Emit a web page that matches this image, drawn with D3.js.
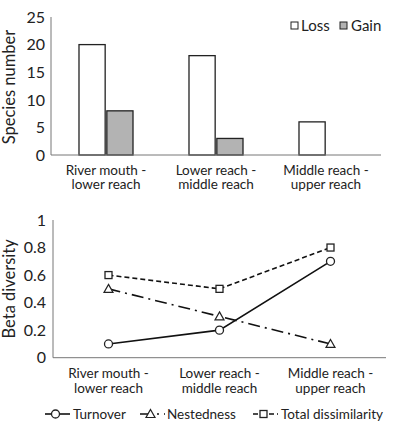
<!DOCTYPE html>
<html><head><meta charset="utf-8">
<script src="https://cdn.jsdelivr.net/npm/d3@7"></script>
<style>
body{margin:0;background:#fff;}
text{font-family:"Lato","Open Sans",sans-serif;fill:#222;}
</style></head>
<body><svg id="c" width="394" height="433"></svg>
<script>
const categories = ["River mouth - lower reach","Lower reach - middle reach","Middle reach - upper reach"];
const catLines = [["River mouth -","lower reach"],["Lower reach -","middle reach"],["Middle reach -","upper reach"]];
const barSeries = ["Loss","Gain"];
const lossValues = [20,18,6];
const gainValues = [8,3,0];
const barTicks = [0,5,10,15,20,25];
const lineSeries = ["Turnover","Nestedness","Total dissimilarity"];
const turnover = [0.1,0.2,0.7];
const nestedness = [0.5,0.3,0.1];
const totalDiss = [0.6,0.5,0.8];
const lineTicks = [0,0.2,0.4,0.6,0.8,1];
const lineTickLabels = ["0","0.2","0.4","0.6","0.8","1"];

const svg = d3.select("#c");
const axisCol = "#777";

// ---------- top bar chart ----------
const t = {left:51,right:381,top:17,bottom:155};
const x0 = d3.scaleBand().domain(categories).range([t.left,t.right]).paddingInner(0.509).paddingOuter(0.2545);
const x1 = d3.scaleBand().domain(barSeries).range([0,x0.bandwidth()]).paddingInner(0.06);
const yb = d3.scaleLinear().domain([0,25]).range([t.bottom,t.top]);
const barData = categories.map((c,i)=>({cat:c,vals:[{k:"Loss",v:lossValues[i]},{k:"Gain",v:gainValues[i]}]}));
const fills = {Loss:"#fff",Gain:"#b3b3b3"};

const g1 = svg.append("g");
g1.selectAll("g.grp").data(barData).join("g").attr("transform",d=>`translate(${x0(d.cat)},0)`)
 .selectAll("rect").data(d=>d.vals.filter(v=>v.v>0)).join("rect")
 .attr("x",d=>x1(d.k)).attr("width",x1.bandwidth())
 .attr("y",d=>yb(d.v)).attr("height",d=>yb(0)-yb(d.v))
 .attr("fill",d=>fills[d.k]).attr("stroke","#222").attr("stroke-width",1.3);

g1.append("line").attr("x1",t.left).attr("x2",t.left).attr("y1",yb(25)).attr("y2",yb(0)).attr("stroke",axisCol).attr("stroke-width",1);
g1.append("line").attr("x1",t.left).attr("x2",t.right).attr("y1",yb(0)).attr("y2",yb(0)).attr("stroke",axisCol).attr("stroke-width",1);
g1.selectAll("text.yt").data(barTicks).join("text").attr("class","yt")
 .attr("x",45).attr("y",d=>yb(d)).attr("dy","0.36em").attr("text-anchor","end")
 .style("font-size","16px").text(d=>d);
g1.append("text").attr("transform",`translate(15,${(t.top+t.bottom)/2+1}) rotate(-90)`)
 .attr("text-anchor","middle").style("font-size","16.5px").text("Species number");
catLines.forEach((ls,i)=>{
  const cx = x0(categories[i])+x0.bandwidth()/2;
  ls.forEach((l,j)=>g1.append("text").attr("x",cx).attr("y",170+j*14.5).attr("dy","0.36em")
   .attr("text-anchor","middle").style("font-size","13.5px").text(l));
});
const lgTop = [{k:"Loss",x:291,tx:301},{k:"Gain",x:340,tx:351}];
lgTop.forEach(d=>{
  g1.append("rect").attr("x",d.x).attr("y",22).attr("width",7).attr("height",7)
   .attr("fill",fills[d.k]).attr("stroke","#222").attr("stroke-width",1);
  g1.append("text").attr("x",d.tx).attr("y",25.5).attr("dy","0.36em").style("font-size","15px").text(d.k);
});

// ---------- bottom line chart ----------
const b = {left:53,right:386,top:220,bottom:357.7};
const xp = d3.scalePoint().domain(categories).range([b.left,b.right]).padding(0.5);
const yl = d3.scaleLinear().domain([0,1]).range([b.bottom,b.top]);
const g2 = svg.append("g");
g2.append("line").attr("x1",b.left).attr("x2",b.left).attr("y1",yl(1)).attr("y2",yl(0)).attr("stroke",axisCol);
g2.append("line").attr("x1",b.left).attr("x2",b.right).attr("y1",yl(0)).attr("y2",yl(0)).attr("stroke",axisCol);
g2.selectAll("text.yt").data(lineTicks).join("text").attr("class","yt")
 .attr("x",46).attr("y",d=>yl(d)).attr("dy","0.36em").attr("text-anchor","end")
 .style("font-size","16px").text((d,i)=>lineTickLabels[i]);
g2.append("text").attr("transform",`translate(15,${(b.top+b.bottom)/2}) rotate(-90)`)
 .attr("text-anchor","middle").style("font-size","16.5px").text("Beta diversity");
catLines.forEach((ls,i)=>{
  const cx = xp(categories[i]);
  ls.forEach((l,j)=>g2.append("text").attr("x",cx).attr("y",373.5+j*14.5).attr("dy","0.36em")
   .attr("text-anchor","middle").style("font-size","13.5px").text(l));
});

const series = [
  {k:"Turnover",vals:turnover,dash:null,mark:"circle"},
  {k:"Nestedness",vals:nestedness,dash:"12,5,2,5",mark:"triangle"},
  {k:"Total dissimilarity",vals:totalDiss,dash:"5,3",mark:"square"}
];
const line = d3.line().x((d,i)=>xp(categories[i])).y(d=>yl(d));
function marker(g,type,cx,cy){
  if(type==="circle") g.append("circle").attr("cx",cx).attr("cy",cy).attr("r",4).attr("fill","#fff").attr("stroke","#222").attr("stroke-width",1.3);
  else if(type==="square") g.append("rect").attr("x",cx-3.5).attr("y",cy-3.5).attr("width",7).attr("height",7).attr("fill","#fff").attr("stroke","#222").attr("stroke-width",1.3);
  else g.append("path").attr("d",`M${cx},${cy-4.5}L${cx+4.5},${cy+3.5}L${cx-4.5},${cy+3.5}Z`).attr("fill","#fff").attr("stroke","#222").attr("stroke-width",1.2);
}
series.forEach(s=>{
  g2.append("path").datum(s.vals).attr("d",line).attr("fill","none").attr("stroke","#111")
   .attr("stroke-width",1.6).attr("stroke-dasharray",s.dash);
});
series.forEach(s=>s.vals.forEach((v,i)=>marker(g2,s.mark,xp(categories[i]),yl(v))));

const lg = [{s:series[0],x1:45,x2:70,tx:73},{s:series[1],x1:140,x2:165,tx:167},{s:series[2],x1:253,x2:278,tx:281}];
const ly = 414;
lg.forEach(d=>{
  g2.append("line").attr("x1",d.x1).attr("x2",d.x2).attr("y1",ly).attr("y2",ly).attr("stroke","#111")
   .attr("stroke-width",1.6).attr("stroke-dasharray",d.s.dash);
  marker(g2,d.s.mark,(d.x1+d.x2)/2-2,ly);
  g2.append("text").attr("x",d.tx).attr("y",ly).attr("dy","0.36em").style("font-size","13.5px").text(d.s.k);
});
</script></body></html>
